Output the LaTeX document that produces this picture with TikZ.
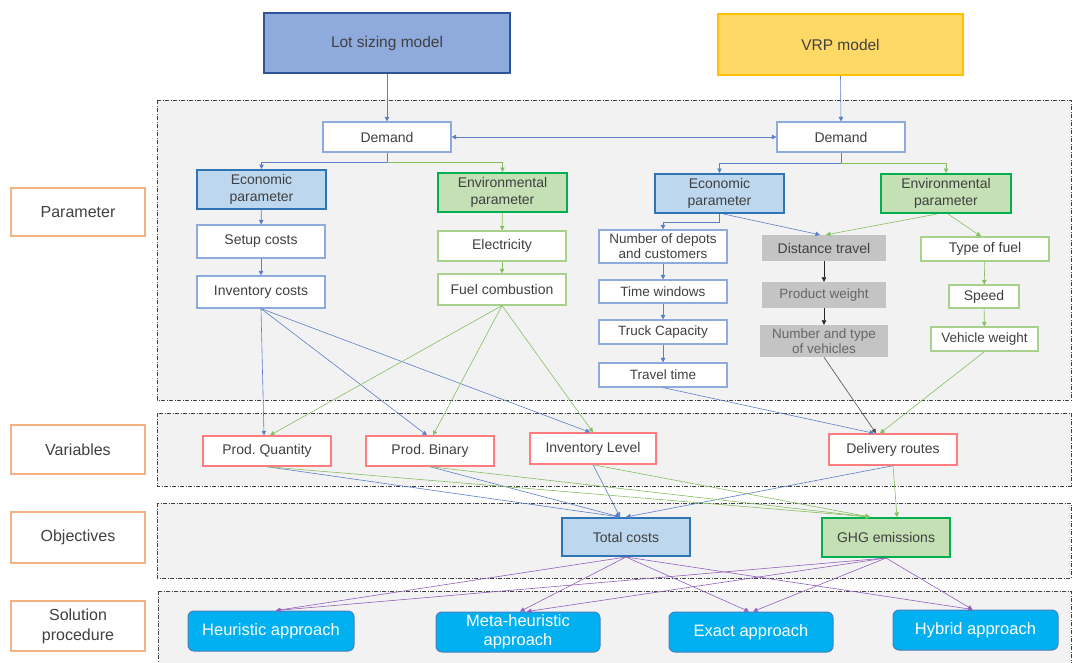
\documentclass[tikz,border=0pt]{standalone}
\usepackage{fontspec}
\setmainfont{Liberation Sans}
\usetikzlibrary{arrows.meta}
\definecolor{txt}{HTML}{404040}
\definecolor{panelfill}{HTML}{F2F2F2}
\definecolor{paneldraw}{HTML}{404040}
\definecolor{bline}{HTML}{5B7FC7}
\definecolor{gline}{HTML}{86BF62}
\definecolor{pline}{HTML}{9460BD}
\definecolor{bborder}{HTML}{8FAADC}
\definecolor{gborder}{HTML}{A9D18E}
\definecolor{ecofill}{HTML}{BDD7EE}
\definecolor{ecodraw}{HTML}{2E75B6}
\definecolor{envfill}{HTML}{C5E0B4}
\definecolor{envdraw}{HTML}{00B050}
\definecolor{redb}{HTML}{FF7C80}
\definecolor{grayfill}{HTML}{C4C4C4}
\definecolor{solfill}{HTML}{00B0F0}
\definecolor{soldraw}{HTML}{4A7EBB}
\definecolor{lotfill}{HTML}{8FAADC}
\definecolor{lotdraw}{HTML}{2F5597}
\definecolor{vrpfill}{HTML}{FFD966}
\definecolor{vrpdraw}{HTML}{FFC000}
\definecolor{lbldraw}{HTML}{F4B183}
\tikzset{
  base/.style={align=center, inner sep=1pt, text=txt, font=\fontsize{14}{17}\selectfont},
  wbox/.style={base, draw=bborder, fill=white, line width=1.2pt},
  gbox/.style={base, draw=gborder, fill=white, line width=1.2pt},
  smallf/.style={font=\fontsize{13.5}{15}\selectfont},
  ecobox/.style={base, draw=ecodraw, fill=ecofill, line width=2pt},
  envbox/.style={base, draw=envdraw, fill=envfill, line width=2pt},
  varbox/.style={base, draw=redb, fill=white, line width=1.4pt},
  graybox/.style={base, fill=grayfill, draw=none},
  solbox/.style={base, draw=soldraw, fill=solfill, line width=1pt, rounded corners=6pt, text=white, font=\fontsize{16.5}{19}\selectfont},
  lblbox/.style={base, draw=lbldraw, fill=white, line width=1.4pt, font=\fontsize{16}{20}\selectfont},
  topbox/.style={base, font=\fontsize{15.5}{18}\selectfont},
  panel/.style={draw=paneldraw, fill=panelfill, line width=0.8pt, dash pattern=on 4pt off 1.5pt on 1pt off 1.5pt},
  tip/.style={-{Triangle[length=4.5pt,width=4.5pt]}},
  barrow/.style={tip, draw=bline, line width=0.6pt},
  garrow/.style={tip, draw=gline, line width=0.6pt},
  parrow/.style={tip, draw=pline, line width=0.6pt},
  karrow/.style={tip, draw=black!85, line width=0.6pt},
}
\begin{document}
\begin{tikzpicture}[x=1pt,y=-1pt]
\useasboundingbox (0,0) rectangle (1073,662);
\fill[white] (0,0) rectangle (1073,662);
% panels
\path[panel] (157,100) rectangle (1071,400);
\path[panel] (157,413) rectangle (1071,486);
\path[panel] (157,503) rectangle (1071,578);
\path[panel] (158,591) rectangle (1071,672);
% top
\node[topbox, draw=lotdraw, fill=lotfill, line width=2pt, minimum width=246pt, minimum height=60pt] (lot) at (387,43) {Lot sizing model};
\node[topbox, draw=vrpdraw, fill=vrpfill, line width=1.5pt, minimum width=245pt, minimum height=61pt] (vrp) at (840.5,44.5) {VRP model};
% labels
\node[lblbox, minimum width=134pt, minimum height=48pt] (lpar) at (78,212) {Parameter};
\node[lblbox, minimum width=134pt, minimum height=49pt] (lvar) at (78,449.5) {Variables};
\node[lblbox, minimum width=134pt, minimum height=51pt] (lobj) at (78,537.5) {Objectives};
\node[lblbox, minimum width=134pt, minimum height=50pt] (lsol) at (78,626) {Solution\\procedure};
% parameter nodes - left
\node[wbox, minimum width=128pt, minimum height=30pt] (demL) at (387,137) {Demand};
\node[ecobox, minimum width=129pt, minimum height=39pt] (ecoL) at (261.5,189.5) {Economic\\parameter};
\node[envbox, minimum width=129pt, minimum height=39pt] (envL) at (502.5,192.5) {Environmental\\parameter};
\node[wbox, minimum width=128pt, minimum height=33pt] (setup) at (261,241.5) {Setup costs};
\node[wbox, minimum width=128pt, minimum height=32pt] (invc) at (261,292) {Inventory costs};
\node[gbox, minimum width=128pt, minimum height=30pt] (elec) at (502,246) {Electricity};
\node[gbox, minimum width=128pt, minimum height=31pt] (fuel) at (502,289.5) {Fuel combustion};
% parameter nodes - right
\node[wbox, minimum width=128pt, minimum height=30pt] (demR) at (841,137) {Demand};
\node[ecobox, minimum width=129pt, minimum height=39pt] (ecoR) at (719.5,193.5) {Economic\\parameter};
\node[envbox, minimum width=130pt, minimum height=39pt] (envR) at (946,193.5) {Environmental\\parameter};
\node[wbox, smallf, minimum width=128pt, minimum height=33pt, inner sep=0pt] (dep) at (663,246.5) {Number of depots\\and customers};
\node[wbox, smallf, minimum width=128pt, minimum height=23pt, inner sep=0pt] (tw) at (663,291.5) {Time windows};
\node[wbox, smallf, minimum width=128pt, minimum height=24pt, inner sep=0pt] (truck) at (663,332) {Truck Capacity};
\node[wbox, smallf, minimum width=128pt, minimum height=24pt, inner sep=0pt] (travel) at (663,375) {Travel time};
\node[graybox, minimum width=124pt, minimum height=26pt] (dist) at (824,248) {Distance travel};
\node[graybox, smallf, text=black!60, minimum width=124pt, minimum height=26pt] (pw) at (824,295) {Product weight};
\node[graybox, smallf, text=black!60, minimum width=128pt, minimum height=32pt, inner sep=0pt] (nt) at (824,341) {Number and type\\of vehicles};
\node[gbox, minimum width=128pt, minimum height=24pt, inner sep=0pt] (tf) at (985,249) {Type of fuel};
\node[gbox, minimum width=70pt, minimum height=23pt, inner sep=0pt] (speed) at (984,296.5) {Speed};
\node[gbox, smallf, minimum width=107pt, minimum height=24pt, inner sep=0pt] (vw) at (984.5,339) {Vehicle weight};
% variables
\node[varbox, minimum width=128pt, minimum height=30pt] (pq) at (267,451) {Prod.\ Quantity};
\node[varbox, minimum width=128pt, minimum height=30pt] (pb) at (430,451) {Prod.\ Binary};
\node[varbox, minimum width=126pt, minimum height=31pt] (il) at (593,448.5) {Inventory Level};
\node[varbox, minimum width=128pt, minimum height=31pt] (dr) at (893,449.5) {Delivery routes};
% objectives
\node[ecobox, minimum width=128pt, minimum height=38pt] (tc) at (626,537) {Total costs};
\node[envbox, minimum width=128pt, minimum height=39pt] (ghg) at (886,537.5) {GHG emissions};
% solutions
\node[solbox, minimum width=166pt, minimum height=40pt] (heur) at (271,631) {Heuristic approach};
\node[solbox, minimum width=164pt, minimum height=40pt, inner sep=0pt] (meta) at (518,632) {Meta-heuristic\\approach};
\node[solbox, minimum width=164pt, minimum height=40pt] (exact) at (751,632) {Exact approach};
\node[solbox, minimum width=165pt, minimum height=40pt] (hyb) at (975.5,630) {Hybrid approach};
% connectors top
\draw[barrow] (lot.south) -- (demL.north);
\draw[barrow] (vrp.south) -- (demR.north);
\draw[barrow, {Triangle[length=4.5pt,width=4.5pt]}-{Triangle[length=4.5pt,width=4.5pt]}] (demL.east) -- (demR.west);
\draw[barrow] (demL.south) -- ([yshift=-10pt]demL.south) -| (ecoL.north);
\draw[garrow] ([yshift=-10pt]demL.south) -| (envL.north);
\draw[barrow] (demR.south) -- ([yshift=-11pt]demR.south) -| (ecoR.north);
\draw[garrow] ([yshift=-11pt]demR.south) -| (envR.north);
\draw[barrow] (ecoL) -- (setup);
\draw[barrow] (setup) -- (invc);
\draw[garrow] (envL) -- (elec);
\draw[garrow] (elec) -- (fuel);
\draw[barrow] (ecoR.south) -- ([yshift=-8pt]ecoR.south) -| (dep.north);
\draw[barrow] (dep) -- (tw);
\draw[barrow] (tw) -- (truck);
\draw[barrow] (truck) -- (travel);
\draw[barrow] ([xshift=4pt]ecoR.south) -- ([xshift=-4pt]dist.north);
\draw[garrow] ([xshift=-9pt]envR.south) -- ([xshift=2pt]dist.north);
\draw[garrow] ([xshift=2pt]envR.south) -- ([xshift=-4pt]tf.north);
\draw[garrow] (tf) -- (speed);
\draw[garrow] (speed) -- (vw);
\draw[karrow] (dist) -- (pw);
\draw[karrow] (pw) -- (nt);
% parameter -> variables
\draw[karrow, draw=black!70] (nt.south) -- ([xshift=-17pt]dr.north);
\draw[garrow] (vw.south) -- ([xshift=-13pt]dr.north);
\draw[barrow] (travel.south) -- ([xshift=-19pt]dr.north);
\draw[barrow] (invc.south) -- ([xshift=-3pt]pq.north);
\draw[barrow] (invc.south) -- ([xshift=-3pt]pb.north);
\draw[barrow] (invc.south) -- ([xshift=-3pt]il.north);
\draw[garrow] (fuel.south) -- ([xshift=3pt]pq.north);
\draw[garrow] (fuel.south) -- ([xshift=3pt]pb.north);
\draw[garrow] (fuel.south) -- ([xshift=0pt]il.north);
% variables -> objectives
\draw[barrow] (pq.south) -- ([xshift=-6pt]tc.north);
\draw[barrow] (pb.south) -- ([xshift=-6pt]tc.north);
\draw[barrow] (il.south) -- ([xshift=-6pt]tc.north);
\draw[barrow] (dr.south) -- ([xshift=0pt]tc.north);
\draw[garrow] (pq.south) -- ([xshift=-16pt]ghg.north);
\draw[garrow] (pb.south) -- ([xshift=-16pt]ghg.north);
\draw[garrow] (il.south) -- ([xshift=-16pt]ghg.north);
\draw[garrow] (dr.south) -- ([xshift=11pt]ghg.north);
% objectives -> solutions
\draw[parrow] (tc.south) -- ([xshift=5pt]heur.north);
\draw[parrow] (tc.south) -- ([xshift=2pt]meta.north);
\draw[parrow] (tc.south) -- ([xshift=-2pt]exact.north);
\draw[parrow] (tc.south) -- ([xshift=-3pt]hyb.north);
\draw[parrow] (ghg.south) -- ([xshift=5pt]heur.north);
\draw[parrow] (ghg.south) -- ([xshift=9pt]meta.north);
\draw[parrow] (ghg.south) -- ([xshift=2pt]exact.north);
\draw[parrow] (ghg.south) -- ([xshift=-3pt]hyb.north);
\end{tikzpicture}
\end{document}
